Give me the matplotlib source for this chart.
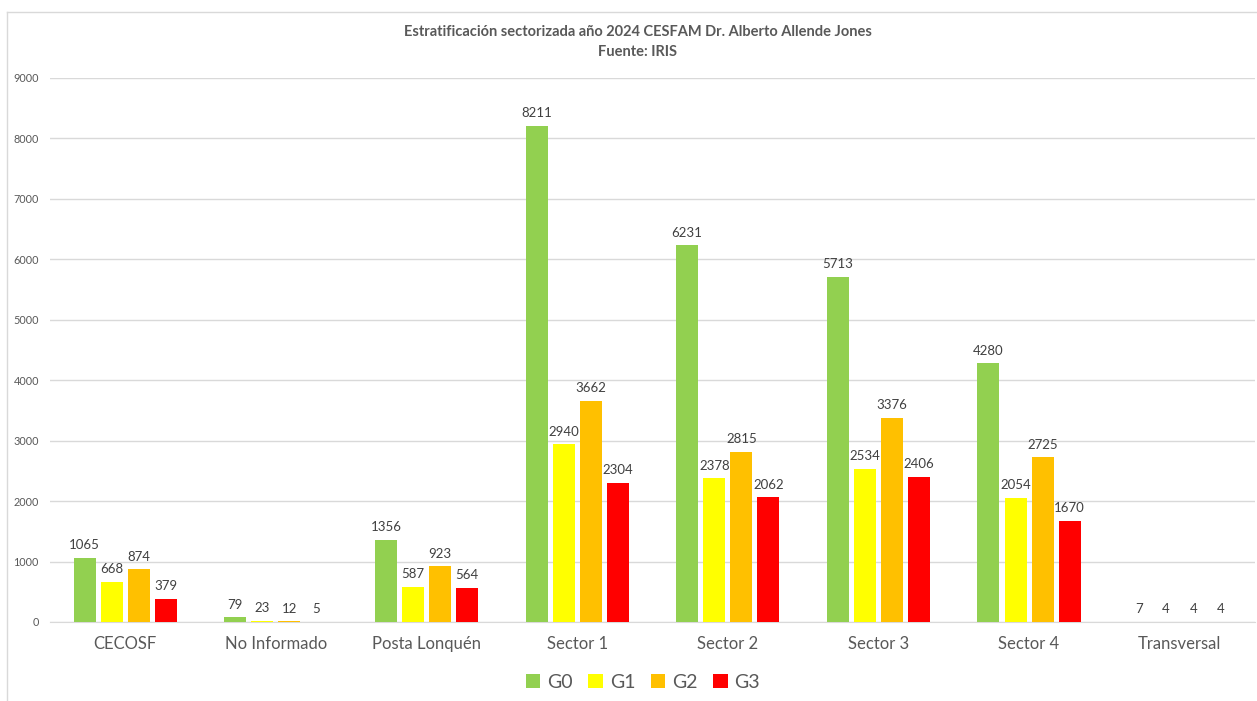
import matplotlib
matplotlib.use("Agg")
import matplotlib.pyplot as plt
from matplotlib.lines import Line2D
from matplotlib.patches import Patch
import numpy as np

plt.rcParams['font.family'] = ['Lato', 'DejaVu Sans']

categories = ["CECOSF", "No Informado", "Posta Lonquén", "Sector 1", "Sector 2",
              "Sector 3", "Sector 4", "Transversal"]
series_names = ["G0", "G1", "G2", "G3"]
g0 = [1065, 79, 1356, 8211, 6231, 5713, 4280, 7]
g1 = [668, 23, 587, 2940, 2378, 2534, 2054, 4]
g2 = [874, 12, 923, 3662, 2815, 3376, 2725, 4]
g3 = [379, 5, 564, 2304, 2062, 2406, 1670, 4]
colors = ["#92D050", "#FFFF00", "#FFC000", "#FF0000"]
yticks = [0, 1000, 2000, 3000, 4000, 5000, 6000, 7000, 8000, 9000]

W, H = 1257, 701
fig = plt.figure(figsize=(W / 100, H / 100), dpi=100)
ax = fig.add_axes([50 / W, (H - 622) / H, (1255 - 50) / W, 544 / H])

text_color = "#595959"
x = np.arange(len(categories))
step = 0.18
bw = 0.146
for i, (vals, c) in enumerate(zip([g0, g1, g2, g3], colors)):
    pos = x + (i - 1.5) * step
    ax.bar(pos, vals, width=bw, color=c, zorder=3)
    for p, v in zip(pos, vals):
        ax.text(p, v + 110, f"{v}", ha="center", va="bottom", fontsize=9.5,
                color="#404040", zorder=4)

ax.set_xlim(-0.5, len(categories) - 0.5)
ax.set_ylim(0, 9000)
ax.set_yticks(yticks)
ax.set_yticklabels([str(t) for t in yticks], fontsize=7.8, color=text_color)
ax.set_xticks(x)
ax.set_xticklabels(categories, fontsize=12, color=text_color)
ax.tick_params(axis="both", length=0)
ax.tick_params(axis="x", pad=10)
ax.tick_params(axis="y", pad=8)
ax.grid(axis="y", color="#D9D9D9", linewidth=1, zorder=0)
for s in ["top", "right", "left"]:
    ax.spines[s].set_visible(False)
ax.spines["bottom"].set_color("#D9D9D9")

fig.text(638 / W, 1 - 32 / H, "Estratificación sectorizada año 2024 CESFAM Dr. Alberto Allende Jones",
         ha="center", va="center", fontsize=10.5, fontweight="bold", color=text_color)
fig.text(638 / W, 1 - 52 / H, "Fuente: IRIS", ha="center", va="center",
         fontsize=10.5, fontweight="bold", color=text_color)

handles = [Patch(facecolor=c, edgecolor="none") for c in colors]
fig.legend(handles, series_names, loc="center", bbox_to_anchor=(643 / W, 1 - 682 / H),
           ncol=4, frameon=False, fontsize=14, handlelength=0.75, handleheight=0.75,
           handletextpad=0.35, columnspacing=0.8, labelcolor=text_color)

# chart border lines
fig.add_artist(Line2D([7 / W, 7 / W], [0, 1 - 12 / H], transform=fig.transFigure,
                      color="#D9D9D9", linewidth=1))
fig.add_artist(Line2D([7 / W, 1], [1 - 12 / H, 1 - 12 / H], transform=fig.transFigure,
                      color="#D9D9D9", linewidth=1))

fig.savefig("out.png", dpi=100, facecolor="white")
